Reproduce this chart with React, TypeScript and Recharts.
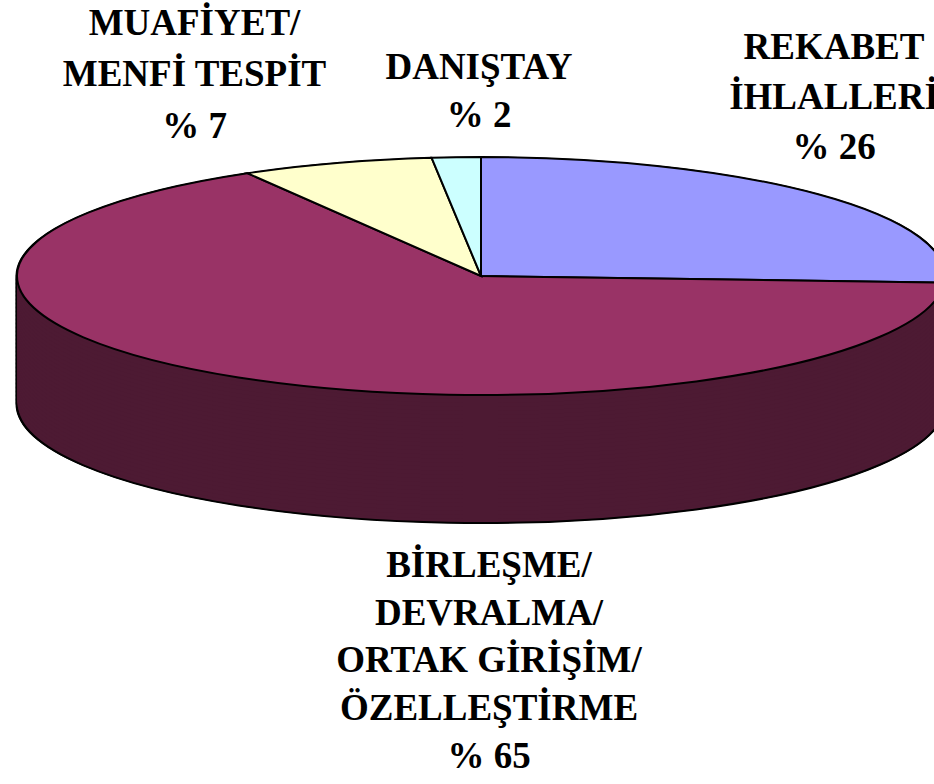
import { PieChart, Pie, Cell } from "recharts";

// slices, clockwise from 12 o'clock
const categories = [
  "REKABET İHLALLERİ",
  "BİRLEŞME/DEVRALMA/ORTAK GİRİŞİM/ÖZELLEŞTİRME",
  "MUAFİYET/MENFİ TESPİT",
  "DANIŞTAY",
];
const shares = [25.9, 65.7, 6.7, 1.7];
const labelLines = [
  ["REKABET", "İHLALLERİ"],
  ["BİRLEŞME/", "DEVRALMA/", "ORTAK GİRİŞİM/", "ÖZELLEŞTİRME"],
  ["MUAFİYET/", "MENFİ TESPİT"],
  ["DANIŞTAY"],
];
const percentLabels = ["% 26", "% 65", "% 7", "% 2"];

const topColors = ["#9999FF", "#993366", "#FFFFCC", "#CCFFFF"];
const sideColors = ["#4D4D80", "#4D1A33", "#808066", "#668080"];

// label placement: center x, first baseline, line height
const labelLayout = [
  { x: 834, baseline: 59.3, lh: 50.4 },
  { x: 489, baseline: 577.3, lh: 47.75 },
  { x: 194.5, baseline: 35, lh: 51.6 },
  { x: 479, baseline: 79.3, lh: 48.4 },
];

const FONT = 37;
const R = 464;
const TILT = 119 / R; // vertical squash of the top ellipse
const CX = 481;
const CY = 276 / TILT;
const DEPTH = 128 / TILT;
const LAYERS = 32;
const CHART_W = 960;
const CHART_H = Math.ceil(CY + DEPTH + R + 20);

const data = categories.map((name, i) => ({ name, value: shares[i] }));

const offsets = Array.from({ length: LAYERS + 1 }, (_, k) => (DEPTH * (LAYERS - k)) / LAYERS);

export default function App() {
  return (
    <div
      style={{
        position: "absolute",
        left: 0,
        top: 0,
        width: 934,
        height: 784,
        overflow: "hidden",
        background: "#fff",
      }}
    >
      <style>{`
        g.pie3d { transform: scaleY(${TILT}); transform-origin: 0 0; transform-box: view-box; }
        path.pie3d, g.pie3d g.pie3d { transform: none; }
        .pie3d path { vector-effect: non-scaling-stroke; }
      `}</style>
      <div style={{ position: "absolute", left: 0, top: 0 }}>
        <PieChart width={CHART_W} height={CHART_H} margin={{ top: 0, right: 0, bottom: 0, left: 0 }}>
          {/* black silhouette of the side, a bit wider -> outline at the edges */}
          {offsets.map((off) => (
            <Pie
              key={`b${off}`}
              className="pie3d"
              data={data}
              dataKey="value"
              cx={CX}
              cy={CY + off}
              outerRadius={R + 1.5}
              startAngle={90}
              endAngle={-270}
              stroke="none"
              isAnimationActive={false}
            >
              {data.map((d) => (
                <Cell key={d.name} fill="#000" />
              ))}
            </Pie>
          ))}
          {/* side walls, bottom up */}
          {offsets.slice(0, LAYERS).map((off, k) => (
            <Pie
              key={`s${off}`}
              className="pie3d"
              data={data}
              dataKey="value"
              cx={CX}
              cy={CY + off}
              outerRadius={R}
              startAngle={90}
              endAngle={-270}
              stroke={k === 0 ? "#000" : "none"}
              strokeWidth={2}
              isAnimationActive={false}
            >
              {data.map((d, i) => (
                <Cell key={d.name} fill={sideColors[i]} />
              ))}
            </Pie>
          ))}
          {/* top face */}
          <Pie
            className="pie3d"
            data={data}
            dataKey="value"
            cx={CX}
            cy={CY}
            outerRadius={R}
            startAngle={90}
            endAngle={-270}
            stroke="#000"
            strokeWidth={2}
            isAnimationActive={false}
          >
            {data.map((d, i) => (
              <Cell key={d.name} fill={topColors[i]} />
            ))}
          </Pie>
        </PieChart>
      </div>
      {labelLayout.map((pos, i) => {
        const top = pos.baseline - ((pos.lh - 1.107 * FONT) / 2 + 0.891 * FONT);
        return (
          <div
            key={categories[i]}
            style={{
              position: "absolute",
              left: pos.x - 250,
              width: 500,
              top,
              textAlign: "center",
              fontFamily: '"Liberation Serif", "Times New Roman", serif',
              fontWeight: "bold",
              fontSize: FONT,
              lineHeight: `${pos.lh}px`,
              whiteSpace: "nowrap",
              color: "#000",
            }}
          >
            {[...labelLines[i], percentLabels[i]].map((line) => (
              <div key={line}>{line}</div>
            ))}
          </div>
        );
      })}
    </div>
  );
}
